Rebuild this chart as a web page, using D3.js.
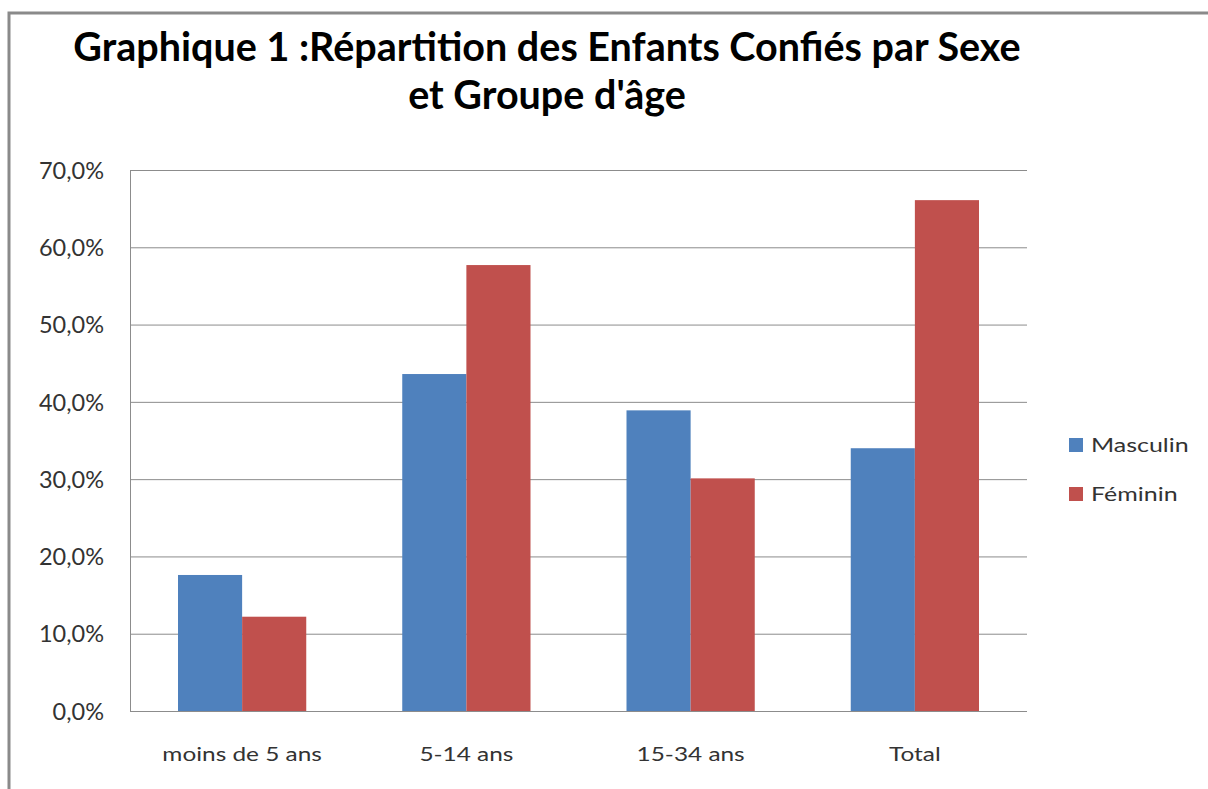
<!DOCTYPE html>
<meta charset="utf-8">
<style>
    body { margin: 0; background: #fff; }
    text { font-family: Lato, "Open Sans", sans-serif; fill: #222; }
    .grid line { stroke: #8c8c8c; stroke-width: 1; }
</style>
<body>
<script src="https://cdn.jsdelivr.net/npm/d3@7"></script>
<script>

    var categories = ["moins de 5 ans", "5-14 ans", "15-34 ans", "Total"];
    var seriesNames = ["Masculin", "Féminin"];
    var masculin = [17.6, 43.6, 38.9, 34.0];
    var feminin = [12.2, 57.7, 30.1, 66.1];
    var yTicks = [0, 10, 20, 30, 40, 50, 60, 70];
    var colors = ["#4f81bd", "#c0504d"];

    var W = 1208, H = 789;
    var margin = {top: 170, right: 181, bottom: 78, left: 130},
        width = W - margin.left - margin.right,
        height = H - margin.top - margin.bottom;

    // widen text horizontally, the original looks stretched
    function stretch(sel, k) {
        sel.each(function() {
            var w = this.getComputedTextLength();
            d3.select(this).attr("textLength", w * k).attr("lengthAdjust", "spacingAndGlyphs");
        });
    }

    var svg = d3.select("body").append("svg")
        .attr("width", W)
        .attr("height", H);

    // outer chart border (runs off the right and bottom edge)
    svg.append("rect")
        .attr("x", 9).attr("y", 13)
        .attr("width", W + 20).attr("height", H + 20)
        .attr("fill", "none")
        .attr("stroke", "#8a8a8a")
        .attr("stroke-width", 3);

    // title
    var title = svg.append("text")
        .attr("text-anchor", "middle")
        .style("font-weight", "bold")
        .style("font-size", "39.5px")
        .style("fill", "#000");
    title.append("tspan").attr("x", 547).attr("y", 61)
        .text("Graphique 1 :Répartition des Enfants Confiés par Sexe");
    title.append("tspan").attr("x", 547).attr("y", 109)
        .text("et Groupe d'âge");

    var g = svg.append("g")
        .attr("transform", "translate(" + margin.left + "," + margin.top + ")");

    var x0 = d3.scaleBand().domain(categories).range([0, width]).paddingInner(0).paddingOuter(0);
    var x1 = d3.scaleBand().domain(seriesNames).range([48, x0.bandwidth() - 48]);
    var y = d3.scaleLinear().domain([0, 70]).range([height, 0]);

    // gridlines
    g.append("g").attr("class", "grid")
        .selectAll("line").data(yTicks.slice(1))
        .enter().append("line")
        .attr("x1", 0).attr("x2", width)
        .attr("y1", function(d) { return y(d) + 0.5; })
        .attr("y2", function(d) { return y(d) + 0.5; });

    var data = categories.map(function(c, i) {
        return {cat: c, values: [masculin[i], feminin[i]]};
    });

    var groups = g.selectAll("g.cat").data(data)
        .enter().append("g").attr("class", "cat")
        .attr("transform", function(d) { return "translate(" + x0(d.cat) + ",0)"; });

    groups.selectAll("rect").data(function(d) { return d.values; })
        .enter().append("rect")
        .attr("x", function(d, i) { return x1(seriesNames[i]); })
        .attr("width", x1.bandwidth())
        .attr("y", function(d) { return y(d); })
        .attr("height", function(d) { return height - y(d); })
        .attr("fill", function(d, i) { return colors[i]; });

    // axes
    var yAxis = d3.axisLeft(y).tickValues(yTicks).tickSize(0).tickPadding(26)
        .tickFormat(function(d) { return d3.format(".1f")(d).replace(".", ",") + "%"; });
    var ya = g.append("g").attr("class", "y axis").call(yAxis);
    ya.select(".domain").remove();
    ya.selectAll(".tick text")
        .attr("dy", "0.35em")
        .style("font-size", "23.5px")
        .style("fill", "#333");

    var xAxis = d3.axisBottom(x0).tickSize(0);
    var xa = g.append("g").attr("class", "x axis")
        .attr("transform", "translate(0," + height + ")")
        .call(xAxis);
    xa.select(".domain").remove();
    xa.selectAll(".tick text")
        .attr("y", 50).attr("dy", 0)
        .style("font-size", "19.5px")
        .style("fill", "#333")
        .call(stretch, 1.25);

    // axis lines
    g.append("line").attr("x1", 0.5).attr("x2", 0.5).attr("y1", 0).attr("y2", height)
        .attr("stroke", "#8c8c8c");
    g.append("line").attr("x1", 0).attr("x2", width).attr("y1", height + 0.5).attr("y2", height + 0.5)
        .attr("stroke", "#8c8c8c");

    // legend
    var legend = svg.append("g").attr("transform", "translate(1069,452)");
    seriesNames.forEach(function(s, i) {
        legend.append("rect")
            .attr("x", 0).attr("y", i * 49 - 14)
            .attr("width", 14).attr("height", 14)
            .attr("fill", colors[i]);
        legend.append("text")
            .attr("x", 22).attr("y", i * 49)
            .style("font-size", "19.5px")
            .style("fill", "#333")
            .text(s)
            .call(stretch, 1.28);
    });

</script>
